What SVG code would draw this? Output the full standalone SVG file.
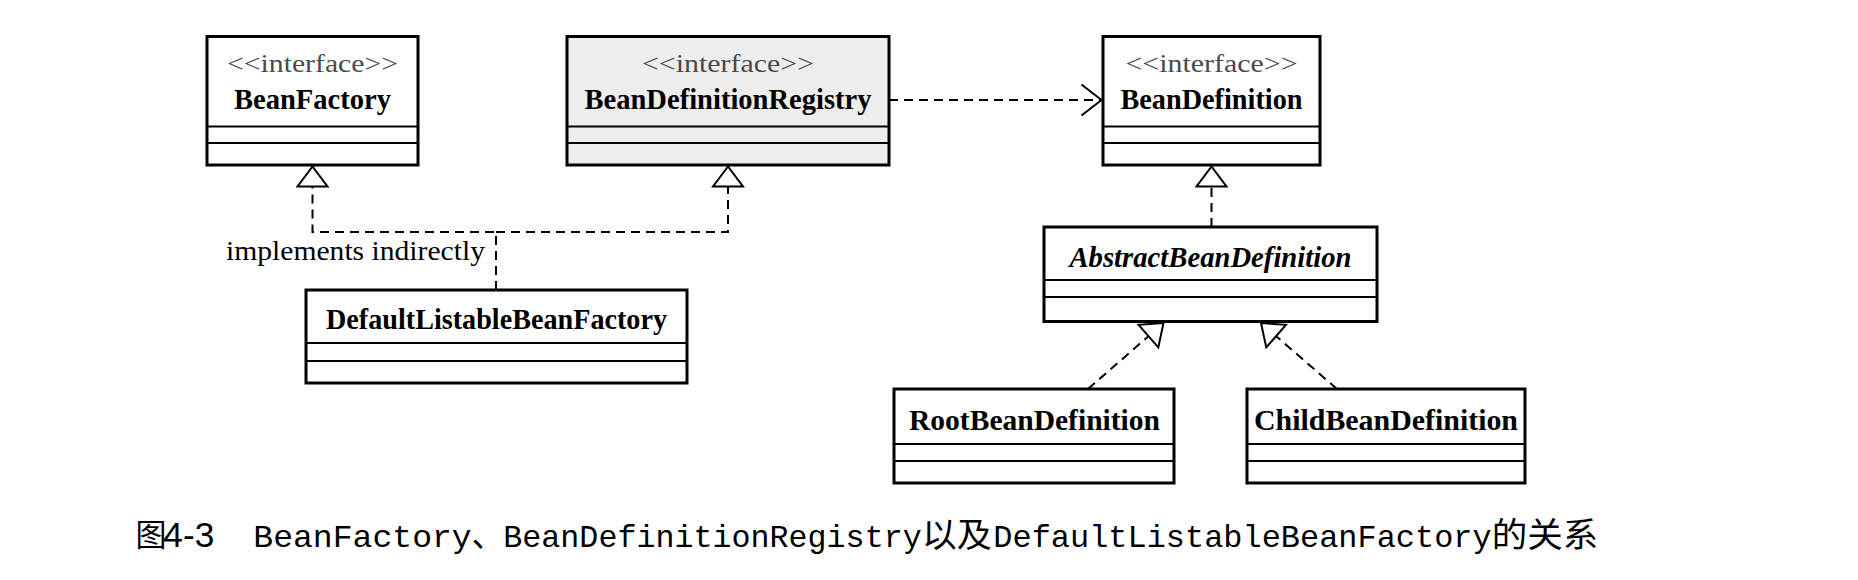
<svg xmlns="http://www.w3.org/2000/svg" width="1858" height="580" viewBox="0 0 1858 580">
<style>
.box{fill:#ffffff;stroke:#000;stroke-width:3}
.gray{fill:#ededed}
.div{stroke:#000;stroke-width:1.8}
.st{font-family:"Liberation Serif","Times New Roman",serif;font-size:26px;fill:#4a4a4a;text-anchor:middle}
.nm{font-family:"Liberation Serif","Times New Roman",serif;font-size:30px;font-weight:bold;fill:#000;text-anchor:middle}
.it{font-style:italic}
.lbl{font-family:"Liberation Serif","Times New Roman",serif;font-size:28px;fill:#000}
.dash{fill:none;stroke:#000;stroke-width:2;stroke-dasharray:9 6}
.cap{font-family:"Liberation Mono","Courier New",monospace;font-size:32px;fill:#000}
.cjk{font-family:"Noto Sans CJK SC",sans-serif;font-size:34px;fill:#000}
.num{font-family:"Liberation Sans",Arial,sans-serif;font-size:35px;fill:#000}
</style>
<defs>
<marker id="tri" viewBox="-22 -17 24 34" markerWidth="24" markerHeight="34" refX="0" refY="0" orient="auto" markerUnits="userSpaceOnUse">
<path d="M0,0 L-20,-15 L-20,15 Z" fill="#fff" stroke="#000" stroke-width="2"/>
</marker>
<marker id="open" viewBox="-23 -18 25 36" markerWidth="25" markerHeight="36" refX="0" refY="0" orient="auto" markerUnits="userSpaceOnUse">
<path d="M-20,-15.5 L0,0 L-20,15.5" fill="none" stroke="#000" stroke-width="2"/>
</marker>
</defs>
<rect width="1858" height="580" fill="#fff"/>

<g id="BeanFactory">
<rect class="box" x="207" y="36.5" width="211" height="128.5"/>
<line class="div" x1="207" y1="126.5" x2="418" y2="126.5"/>
<line class="div" x1="207" y1="143" x2="418" y2="143"/>
<text class="st" x="312.5" y="72" textLength="171" lengthAdjust="spacingAndGlyphs">&lt;&lt;interface&gt;&gt;</text>
<text class="nm" x="312.5" y="108.5" textLength="157" lengthAdjust="spacingAndGlyphs">BeanFactory</text>
</g>

<g id="BeanDefinitionRegistry">
<rect class="box gray" x="567" y="36.5" width="322" height="128.5"/>
<line class="div" x1="567" y1="126.5" x2="889" y2="126.5"/>
<line class="div" x1="567" y1="143" x2="889" y2="143"/>
<text class="st" x="728" y="72" textLength="172" lengthAdjust="spacingAndGlyphs">&lt;&lt;interface&gt;&gt;</text>
<text class="nm" x="728" y="108.5" textLength="287" lengthAdjust="spacingAndGlyphs">BeanDefinitionRegistry</text>
</g>

<g id="BeanDefinition">
<rect class="box" x="1103" y="36.5" width="217" height="128.5"/>
<line class="div" x1="1103" y1="126.5" x2="1320" y2="126.5"/>
<line class="div" x1="1103" y1="143" x2="1320" y2="143"/>
<text class="st" x="1211.5" y="72" textLength="172" lengthAdjust="spacingAndGlyphs">&lt;&lt;interface&gt;&gt;</text>
<text class="nm" x="1211.5" y="108.5" textLength="182" lengthAdjust="spacingAndGlyphs">BeanDefinition</text>
</g>

<g id="AbstractBeanDefinition">
<rect class="box" x="1044" y="227" width="333" height="94.5"/>
<line class="div" x1="1044" y1="280" x2="1377" y2="280"/>
<line class="div" x1="1044" y1="297" x2="1377" y2="297"/>
<text class="nm it" x="1210.5" y="267" textLength="282" lengthAdjust="spacingAndGlyphs">AbstractBeanDefinition</text>
</g>

<g id="DefaultListableBeanFactory">
<rect class="box" x="306" y="290" width="381" height="93"/>
<line class="div" x1="306" y1="343" x2="687" y2="343"/>
<line class="div" x1="306" y1="361" x2="687" y2="361"/>
<text class="nm" x="496.5" y="328.5" textLength="341" lengthAdjust="spacingAndGlyphs">DefaultListableBeanFactory</text>
</g>

<g id="RootBeanDefinition">
<rect class="box" x="894" y="389" width="280" height="94"/>
<line class="div" x1="894" y1="444" x2="1174" y2="444"/>
<line class="div" x1="894" y1="461" x2="1174" y2="461"/>
<text class="nm" x="1034.5" y="430" textLength="251" lengthAdjust="spacingAndGlyphs">RootBeanDefinition</text>
</g>

<g id="ChildBeanDefinition">
<rect class="box" x="1247" y="389" width="278" height="94"/>
<line class="div" x1="1247" y1="444" x2="1525" y2="444"/>
<line class="div" x1="1247" y1="461" x2="1525" y2="461"/>
<text class="nm" x="1386" y="430" textLength="264" lengthAdjust="spacingAndGlyphs">ChildBeanDefinition</text>
</g>

<g id="connectors">
<path class="dash" d="M496,290 V232 H312.5 V166.5" marker-end="url(#tri)"/>
<path class="dash" d="M496,232 H728 V166.5" marker-end="url(#tri)"/>
<path class="dash" d="M889,100 H1101.5" marker-end="url(#open)"/>
<path class="dash" d="M1211.5,227 V166.5" marker-end="url(#tri)"/>
<path class="dash" d="M1088,389 L1163.5,323" marker-end="url(#tri)"/>
<path class="dash" d="M1337,389 L1261,323" marker-end="url(#tri)"/>
<text class="lbl" x="226" y="260" textLength="259" lengthAdjust="spacingAndGlyphs">implements indirectly</text>
</g>

<g id="caption">
<text class="cjk" x="135.5" y="546" style="font-size:31px">图</text>
<text class="num" x="163.3" y="547" textLength="51" lengthAdjust="spacingAndGlyphs">4-3</text>
<text class="cap" x="253.3" y="547" textLength="218.4" lengthAdjust="spacingAndGlyphs">BeanFactory</text>
<text class="cjk" x="471.7" y="547" textLength="31.6" lengthAdjust="spacingAndGlyphs">、</text>
<text class="cap" x="503.3" y="547" textLength="418.4" lengthAdjust="spacingAndGlyphs">BeanDefinitionRegistry</text>
<text class="cjk" x="921.7" y="547" textLength="70" lengthAdjust="spacingAndGlyphs">以及</text>
<text class="cap" x="993.3" y="547" textLength="498.4" lengthAdjust="spacingAndGlyphs">DefaultListableBeanFactory</text>
<text class="cjk" x="1491.7" y="547" textLength="106.6" lengthAdjust="spacingAndGlyphs">的关系</text>
</g>
</svg>
